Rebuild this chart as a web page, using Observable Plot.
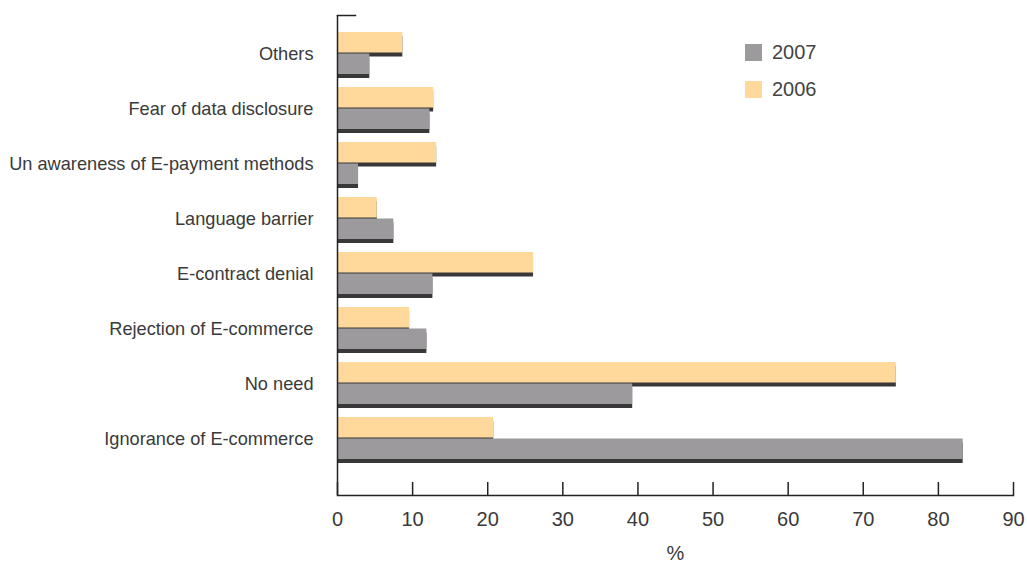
<!DOCTYPE html>
<html>
<head>
<meta charset="utf-8">
<script src="https://cdn.jsdelivr.net/npm/d3@7"></script>
<script src="https://cdn.jsdelivr.net/npm/@observablehq/plot@0.6"></script>
<style>
  body { margin: 0; background: #fff; font-family: "Liberation Sans", Arial, sans-serif; }
  #wrap { position: relative; width: 1027px; height: 565px; }
  #legend { position: absolute; left: 745px; top: 34px; color: #444; font-size: 20px; }
  .li { display: flex; align-items: center; height: 37px; }
  .sw { width: 17px; height: 17px; margin-right: 10px; }
</style>
</head>
<body>
<div id="wrap"></div>
<script>
const categories = ["Others", "Fear of data disclosure", "Un awareness of E-payment methods", "Language barrier", "E-contract denial", "Rejection of E-commerce", "No need", "Ignorance of E-commerce"];
const values2006 = [8.7, 12.8, 13.2, 5.3, 26.1, 9.6, 74.4, 20.8];
const values2007 = [4.3, 12.3, 2.8, 7.5, 12.7, 11.9, 39.3, 83.3];
const xTicks = [0, 10, 20, 30, 40, 50, 60, 70, 80, 90];
const seriesNames = ["2007", "2006"];
const seriesColors = ["#9c9a9c", "#ffd99c"];

const d2006 = categories.map((c, i) => ({cat: c, value: values2006[i]}));
const d2007 = categories.map((c, i) => ({cat: c, value: values2007[i]}));
const shadow = "#383838";
const half = 21.5;

const chart = Plot.plot({
  width: 1027,
  height: 565,
  marginLeft: 337,
  marginRight: 14,
  marginTop: 15,
  marginBottom: 70,
  style: {fontFamily: "'Liberation Sans', Arial, sans-serif", color: "#3a3a3a", background: "#fff"},
  x: {domain: [0, 90]},
  y: {domain: categories, paddingInner: 0.228, paddingOuter: 0.423, align: 0.32},
  marks: [
    Plot.barX(d2006, {x: "value", y: "cat", fill: shadow, insetBottom: half, dy: 4}),
    Plot.barX(d2006, {x: "value", y: "cat", fill: seriesColors[1], insetBottom: half}),
    Plot.barX(d2007, {x: "value", y: "cat", fill: shadow, insetTop: half, dy: 4}),
    Plot.barX(d2007, {x: "value", y: "cat", fill: seriesColors[0], insetTop: half}),
    Plot.ruleX([0], {stroke: "#222", strokeWidth: 1.5}),
    Plot.frame({anchor: "bottom", stroke: "#222", strokeWidth: 1.5}),
    Plot.frame({anchor: "top", stroke: "#222", strokeWidth: 1.5, insetRight: 658}),
    Plot.tickX(xTicks, {x: d => d, stroke: "#222", strokeWidth: 1.5, insetTop: 467}),
    Plot.axisY({tickSize: 0, tickPadding: 24, fontSize: 18.2, label: null, dy: 1}),
    Plot.axisX({ticks: xTicks, tickSize: 0, tickPadding: 16, fontSize: 20, label: "%", labelAnchor: "center", labelArrow: "none", labelOffset: 64})
  ]
});

const wrap = document.getElementById("wrap");
wrap.appendChild(chart);
const legend = document.createElement("div");
legend.id = "legend";
seriesNames.forEach((n, i) => {
  const row = document.createElement("div");
  row.className = "li";
  const sw = document.createElement("span");
  sw.className = "sw";
  sw.style.background = seriesColors[i];
  const t = document.createElement("span");
  t.textContent = n;
  row.appendChild(sw);
  row.appendChild(t);
  legend.appendChild(row);
});
wrap.appendChild(legend);
</script>
</body>
</html>
